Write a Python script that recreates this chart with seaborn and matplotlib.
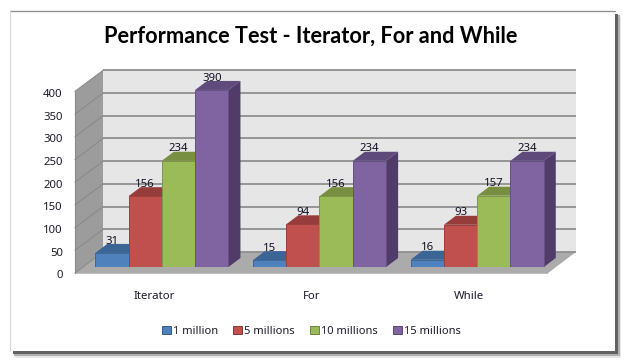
import matplotlib
matplotlib.use("Agg")
import matplotlib.pyplot as plt
import matplotlib.transforms as mtransforms
from matplotlib.patches import Polygon, Rectangle
from matplotlib.colors import to_rgb
import pandas as pd
import seaborn as sns

# ------------------ DATA ------------------
categorias = ["Iterator", "For", "While"]
series = ["1 million", "5 millions", "10 millions", "15 millions"]
v_1m = [31, 15, 16]
v_5m = [156, 94, 93]
v_10m = [234, 156, 157]
v_15m = [390, 234, 234]
y_ticks = [0, 50, 100, 150, 200, 250, 300, 350, 400]
titulo = "Performance Test - Iterator, For and While"

colores = ["#4F81BD", "#C0504D", "#9BBB59", "#8064A2"]
colores_top = ["#3A6595", "#963C3A", "#788F42", "#5F4A7C"]
colores_lado = ["#2F5379", "#7A302E", "#5F7234", "#503B69"]

df = pd.DataFrame({
    "cat": categorias * 4,
    "serie": [s for s in series for _ in categorias],
    "valor": v_1m + v_5m + v_10m + v_15m,
})

# ------------------ FIGURE ------------------
W, H = 626, 362
sns.set_theme(style="white")
plt.rcParams["font.family"] = ["Noto Sans", "DejaVu Sans"]
plt.rcParams["text.color"] = "#1a1a2a"

fig = plt.figure(figsize=(W / 100, H / 100), dpi=100, facecolor="white")

# outer card with shadow, in figure pixels
def fig_rect(x0, y0, x1, y1, **kw):
    fig.add_artist(Rectangle((x0 / W, 1 - y1 / H), (x1 - x0) / W, (y1 - y0) / H,
                             transform=fig.transFigure, zorder=-5, **kw))

fig_rect(15, 17, 621, 358, fc="#E8E8E8", ec="none")
fig_rect(14, 15, 619.5, 356, fc="#B0B0B0", ec="none")
fig_rect(13, 14, 618, 354, fc="#626262", ec="none")
fig_rect(10, 10, 615, 351, fc="white", ec="none")
# top edge darker than the faint left edge
fig.add_artist(plt.Line2D([10 / W, 615 / W], [1 - 10.5 / H, 1 - 10.5 / H], color="#8C8C8C", lw=0.9, zorder=-4))
fig.add_artist(plt.Line2D([10 / W, 10 / W], [1 - 10 / H, 1 - 351 / H], color="#DADADA", lw=0.9, zorder=-4))

# axes is the plane of the bar fronts: 83..556 px wide, 85.4..267 px high
left, right, top, bottom = 83, 556, 85.4, 267
ax = fig.add_axes([left / W, 1 - bottom / H, (right - left) / W, (bottom - top) / H])
ax.patch.set_alpha(0)

sns.barplot(data=df, x="cat", y="valor", hue="serie", order=categorias, hue_order=series,
            palette=colores, width=0.845, saturation=1, dodge=True, ax=ax, zorder=6)
ax.set_xlim(-0.5, 2.5)
ax.set_ylim(0, 400)
sns.despine(ax=ax, left=True, bottom=True)
ax.set_xlabel("")
ax.set_ylabel("")

# pixel steps expressed in data units
px_x = 3 / (right - left)
px_y = 400 / (bottom - top)

# 3D box around the bars
fx0, fx1 = -0.5 - 8 * px_x, 2.5 - 8 * px_x
bx0, bx1 = -0.5 + 20 * px_x, 2.5 + 20 * px_x
fy = -6 * px_y
by = 15 * px_y

def poly(pts, fc, z, ec="none", lw=0):
    ax.add_patch(Polygon(pts, closed=True, fc=fc, ec=ec, lw=lw, zorder=z, clip_on=False))

poly([(bx0, by), (bx1, by), (bx1, by + 400), (bx0, by + 400)], "#E6E6E6", 1)
poly([(fx0, fy), (bx0, by), (bx0, by + 400), (fx0, fy + 400)], "#9C9C9C", 1)
poly([(fx0, fy), (fx1, fy), (bx1, by), (bx0, by)], "#ABABAB", 1)
poly([(fx0, fy), (fx1, fy), (fx1, fy - 1.3 * px_y), (fx0, fy - 1.3 * px_y)], "#BEBEBE", 1)

for v in y_ticks:
    ax.plot([bx0, bx1], [by + v, by + v], color="#8F8F8F", lw=1.3, zorder=2, clip_on=False,
            solid_capstyle="butt")
    ax.plot([fx0, bx0], [fy + v, by + v], color="#8A8A8A", lw=0.8, zorder=2, clip_on=False)
ax.plot([fx0, fx0], [fy, fy + 400], color="#8A8A8A", lw=0.8, zorder=2, clip_on=False)

# tops and sides of the bars, taken from the drawn bars
dx, dy = 12 * px_x, 9 * px_y
for i, cont in enumerate(ax.containers):
    for bar in cont:
        x0, x1, h = bar.get_x(), bar.get_x() + bar.get_width(), bar.get_height()
        poly([(x0, h), (x1, h), (x1 + dx, h + dy), (x0 + dx, h + dy)], colores_top[i], 4)
        poly([(x1, 0), (x1 + dx, dy), (x1 + dx, h + dy), (x1, h)], colores_lado[i], 4)
        bar.set_edgecolor(tuple(c * 0.8 for c in to_rgb(colores[i])))
        bar.set_linewidth(0.7)
    etiquetas = ax.bar_label(cont, fmt="%g", padding=4.6, fontsize=8.2, color="#111122")
    for t in etiquetas:
        t.set_zorder(10)

# ticks and labels belong to the front plane of the box
ax.tick_params(axis="both", length=0, labelsize=8.2, labelcolor="#1a1a2a")
ax.set_yticks(y_ticks)
ax.tick_params(axis="y", pad=14.5)
ax.tick_params(axis="x", pad=17)
off_y = mtransforms.ScaledTranslation(0, -7.5 / 100, fig.dpi_scale_trans)
for lab in ax.get_yticklabels():
    lab.set_transform(lab.get_transform() + off_y)
off_x = mtransforms.ScaledTranslation(-8 / 100, 0, fig.dpi_scale_trans)
for lab in ax.get_xticklabels():
    lab.set_transform(lab.get_transform() + off_x)

# ------------------ LEGEND ------------------
handles, labels = ax.get_legend_handles_labels()
ax.get_legend().remove()
for h, c in zip(handles, colores):
    h.set_edgecolor(tuple(v * 0.7 for v in to_rgb(c)))
    h.set_linewidth(0.7)
fig.legend(handles, labels, loc="center", bbox_to_anchor=(311.5 / W, 1 - 331.5 / H), ncol=4,
           frameon=False, fontsize=8, handlelength=0.8, handleheight=0.8,
           handletextpad=0.2, columnspacing=1.35, borderpad=0)

fig.text(310.5 / W, 1 - 36 / H, titulo, ha="center", va="center", fontsize=15.7,
         fontweight="bold", family=["Lato", "DejaVu Sans"], color="black")

fig.savefig("out.png", dpi=100, facecolor="white")
